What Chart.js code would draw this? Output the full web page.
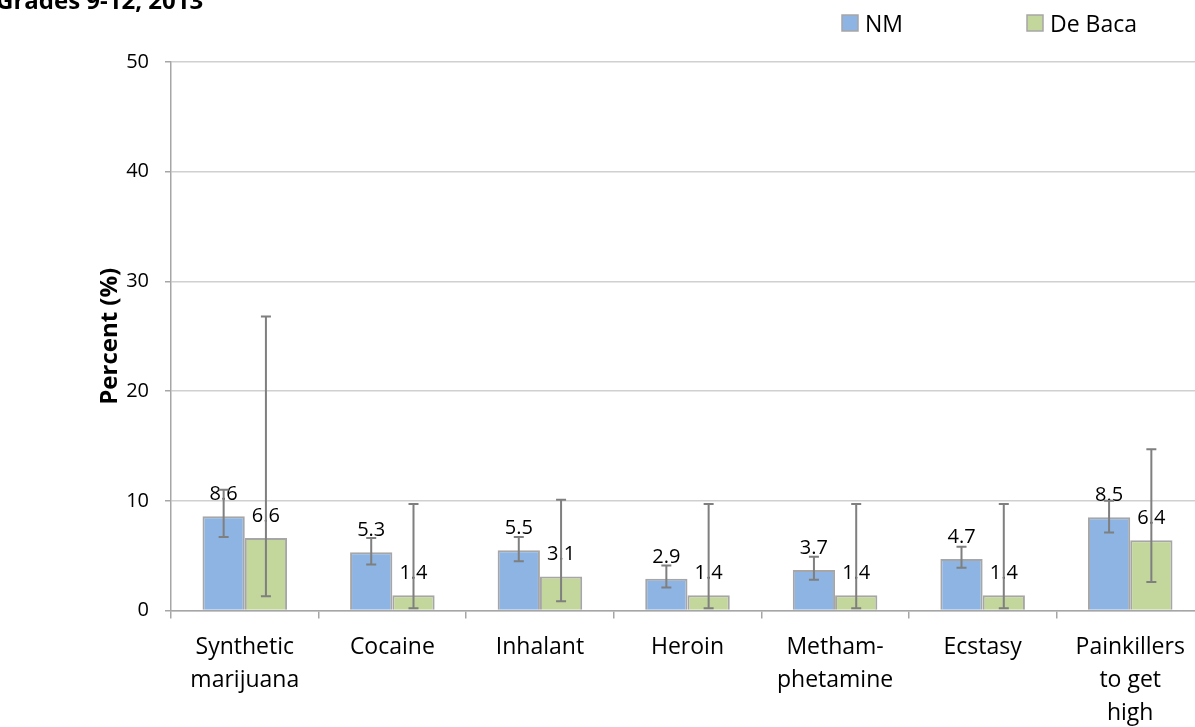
<!DOCTYPE html>
<html>
<head>
<meta charset="utf-8">
<script src="https://cdn.jsdelivr.net/npm/chart.js@4"></script>
<style>
  html, body { margin: 0; padding: 0; background: #fff; overflow: hidden; }
  #wrap { width: 1195px; height: 727px; overflow: hidden; position: relative; }
</style>
</head>
<body>
<div id="wrap">
  <canvas id="drugChart" width="1214" height="727"></canvas>
</div>
<script>
// Chart data
const chartTitle = 'Grades 9-12, 2013';
const categories = [
  ['Synthetic', 'marijuana'],
  'Cocaine',
  'Inhalant',
  'Heroin',
  ['Metham-', 'phetamine'],
  'Ecstasy',
  ['Painkillers', 'to get', 'high']
];
const seriesNames = ['NM', 'De Baca'];
const nmValues = [8.6, 5.3, 5.5, 2.9, 3.7, 4.7, 8.5];
const nmLow = [6.7, 4.2, 4.5, 2.1, 2.8, 3.9, 7.1];
const nmHigh = [11.0, 6.6, 6.7, 4.1, 4.9, 5.8, 10.0];
const debacaValues = [6.6, 1.4, 3.1, 1.4, 1.4, 1.4, 6.4];
const debacaLow = [1.3, 0.2, 0.85, 0.2, 0.2, 0.2, 2.6];
const debacaHigh = [26.8, 9.7, 10.1, 9.7, 9.7, 9.7, 14.7];
const yTicks = [0, 10, 20, 30, 40, 50];

const FONT = "'Open Sans', 'DejaVu Sans', sans-serif";
const lows = [nmLow, debacaLow];
const highs = [nmHigh, debacaHigh];

// Error bars and value labels, positioned through the scales
const errorBarPlugin = {
  id: 'errorBars',
  afterDatasetsDraw(chart) {
    const ctx = chart.ctx;
    const yScale = chart.scales.y;
    chart.data.datasets.forEach((ds, di) => {
      const meta = chart.getDatasetMeta(di);
      meta.data.forEach((bar, i) => {
        // value label above the bar
        ctx.save();
        ctx.fillStyle = '#000';
        ctx.font = '20px ' + FONT;
        ctx.textAlign = 'center';
        ctx.textBaseline = 'alphabetic';
        ctx.fillText(ds.data[i].toFixed(1), bar.x, bar.y - 16);
        ctx.restore();

        const yLo = yScale.getPixelForValue(lows[di][i]);
        const yHi = yScale.getPixelForValue(highs[di][i]);
        ctx.save();
        ctx.strokeStyle = '#7F7F7F';
        ctx.lineWidth = 2;
        ctx.beginPath();
        ctx.moveTo(bar.x, yLo);
        ctx.lineTo(bar.x, yHi);
        ctx.moveTo(bar.x - 5, yLo);
        ctx.lineTo(bar.x + 5, yLo);
        ctx.moveTo(bar.x - 5, yHi);
        ctx.lineTo(bar.x + 5, yHi);
        ctx.stroke();
        ctx.restore();
      });
    });
  }
};

// Title (cut off at the top left) and the wide legend at top right
const headerPlugin = {
  id: 'header',
  afterDraw(chart) {
    const ctx = chart.ctx;
    ctx.save();
    ctx.fillStyle = '#000';
    ctx.font = 'bold 24px ' + FONT;
    ctx.textBaseline = 'alphabetic';
    ctx.textAlign = 'left';
    ctx.fillText(chartTitle, -4, 9);

    const legendX = [842, 1027];
    chart.data.datasets.forEach((ds, di) => {
      const x = legendX[di];
      ctx.fillStyle = ds.backgroundColor;
      ctx.fillRect(x, 15, 16, 16);
      ctx.strokeStyle = '#A6A6A6';
      ctx.lineWidth = 1.5;
      ctx.strokeRect(x, 15, 16, 16);
      ctx.fillStyle = '#000';
      ctx.font = '23px ' + FONT;
      ctx.fillText(ds.label, x + 23, 32);
    });
    ctx.restore();
  }
};

const ctx = document.getElementById('drugChart');
new Chart(ctx, {
  type: 'bar',
  data: {
    labels: categories,
    datasets: [
      {
        label: seriesNames[0],
        data: nmValues,
        backgroundColor: '#8DB4E2',
        borderColor: '#A6A6A6',
        borderWidth: 2
      },
      {
        label: seriesNames[1],
        data: debacaValues,
        backgroundColor: '#C3D69B',
        borderColor: '#A6A6A6',
        borderWidth: 2
      }
    ]
  },
  options: {
    responsive: false,
    animation: false,
    events: [],
    layout: {
      padding: { top: 62, left: 0, right: 10, bottom: 0 }
    },
    datasets: {
      bar: { categoryPercentage: 0.573, barPercentage: 1.0 }
    },
    plugins: {
      legend: { display: false },
      tooltip: { enabled: false }
    },
    scales: {
      x: {
        grid: {
          offset: true,
          drawOnChartArea: false,
          tickLength: 8,
          tickColor: '#A6A6A6',
          lineWidth: 1.5
        },
        border: { color: '#A6A6A6', width: 1.5 },
        ticks: {
          color: '#000',
          font: { family: FONT, size: 23, lineHeight: '33px' },
          padding: 12,
          maxRotation: 0,
          autoSkip: false
        },
        afterFit(scale) { scale.height = 116.5; }
      },
      y: {
        min: 0,
        max: 50,
        afterBuildTicks(scale) {
          scale.ticks = yTicks.map(v => ({ value: v }));
        },
        grid: {
          color: '#D0D0D0',
          lineWidth: 1.5,
          tickLength: 6,
          tickColor: '#A6A6A6'
        },
        border: { color: '#A6A6A6', width: 1.5 },
        ticks: {
          color: '#000',
          font: { family: FONT, size: 20 },
          padding: 16
        },
        title: {
          display: true,
          text: 'Percent (%)',
          color: '#000',
          font: { family: FONT, size: 24, weight: 'bold', lineHeight: '28px' },
          padding: { top: 96, bottom: 0 }
        },
        afterFit(scale) { scale.width = 171; }
      }
    }
  },
  plugins: [errorBarPlugin, headerPlugin]
});
</script>
</body>
</html>
